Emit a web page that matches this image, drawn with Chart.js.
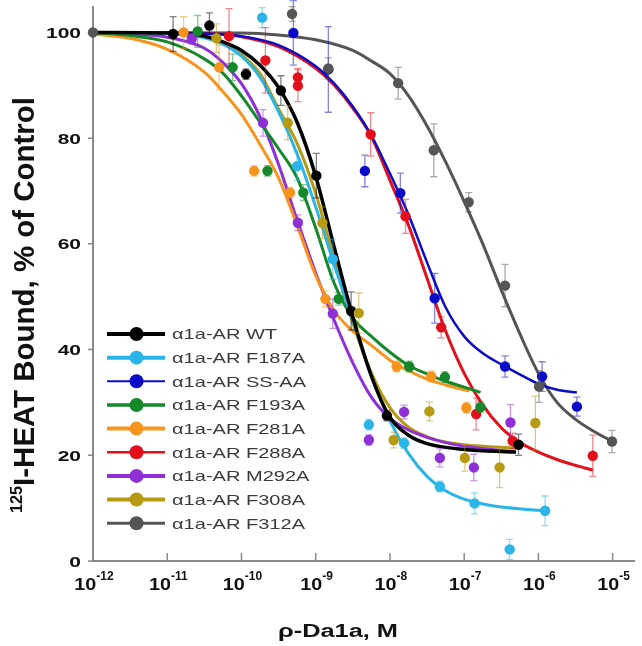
<!DOCTYPE html>
<html>
<head>
<meta charset="utf-8">
<script src="https://cdn.jsdelivr.net/npm/chart.js@4.4.1/dist/chart.umd.min.js"></script>
<style>html,body{margin:0;padding:0;background:#fff;}canvas{display:block;}</style>
</head>
<body>
<canvas id="c" width="642" height="646"></canvas>
<script>
// ---------- tick labels ----------
const xTickValues = [1e-12, 1e-11, 1e-10, 1e-9, 1e-8, 1e-7, 1e-6, 1e-5];
const xTickExponents = ['-12', '-11', '-10', '-9', '-8', '-7', '-6', '-5'];
const yTickValues = [0, 20, 40, 60, 80, 100];
const xTitle = 'ρ-Da1a, M';
const yTitleSup = '125';
const yTitleMain = 'I-HEAT Bound, % of Control';

// ---------- series ----------
const seriesLabels = ['α1a-AR WT', 'α1a-AR F187A', 'α1a-AR SS-AA', 'α1a-AR F193A', 'α1a-AR F281A',
  'α1a-AR F288A', 'α1a-AR M292A', 'α1a-AR F308A', 'α1a-AR F312A'];
const seriesColors = ['#000000', '#2ab4e8', '#0a0ac8', '#15892a', '#f7941d', '#e3101c', '#8f2fd8', '#b59a12', '#555555'];

// measured points (concentration, % bound, error)
const wtX = [1.2e-11, 3.7e-11, 1.15e-10, 3.4e-10, 1.02e-9, 3.0e-9, 9.1e-9, 5.4e-7];
const wtY = [99.7, 101.3, 92.1, 89.0, 72.9, 47.3, 27.5, 22.0];
const wtErr = [3.3, 2.4, 1.0, 2.8, 4.2, 3.6, 1.0, 2.0];

const f187X = [1.9e-10, 5.6e-10, 1.7e-9, 5.2e-9, 1.55e-8, 4.7e-8, 1.38e-7, 4.1e-7, 1.23e-6];
const f187Y = [102.8, 74.7, 57.1, 25.8, 22.3, 14.1, 10.9, 2.2, 9.5];
const f187Err = [1.9, 2.7, 3.8, 1.0, 1.0, 1.0, 2.0, 1.9, 2.8];

const ssaaX = [5.0e-10, 1.48e-9, 4.6e-9, 1.38e-8, 4.0e-8, 3.55e-7, 1.12e-6, 3.3e-6];
const ssaaY = [99.9, 93.0, 73.8, 69.6, 49.7, 36.8, 34.9, 29.2];
const ssaaErr = [6.1, 8.1, 3.0, 3.8, 4.7, 2.0, 2.8, 1.8];

const f193X = [2.57e-11, 7.6e-11, 2.24e-10, 6.8e-10, 2.04e-9, 1.82e-8, 5.5e-8, 1.66e-7];
const f193Y = [100.2, 93.4, 73.8, 69.7, 49.6, 36.8, 34.8, 29.1];
const f193Err = [3.0, 2.5, 1.0, 1.5, 1.2, 1.0, 1.0, 1.0];

const f281X = [1.66e-11, 5.0e-11, 1.48e-10, 4.5e-10, 1.35e-9, 1.23e-8, 3.6e-8, 1.07e-7];
const f281Y = [100.0, 93.4, 73.8, 69.7, 49.6, 36.8, 34.9, 29.0];
const f281Err = [3.0, 4.2, 1.0, 1.0, 1.5, 1.0, 1.0, 1.0];

const f288X = [6.8e-11, 2.1e-10, 5.75e-10, 5.75e-10, 5.5e-9, 1.62e-8, 4.9e-8, 1.45e-7, 4.5e-7, 5.4e-6];
const f288Y = [99.3, 94.7, 91.5, 89.9, 80.7, 65.2, 44.2, 27.8, 22.7, 19.9];
const f288Err = [5.2, 6.2, 1.7, 3.0, 4.1, 3.2, 2.0, 3.0, 1.5, 3.9];

const m292X = [2.14e-11, 1.95e-10, 5.75e-10, 1.7e-9, 5.2e-9, 1.55e-8, 4.7e-8, 1.35e-7, 4.2e-7];
const m292Y = [98.8, 82.9, 64.0, 46.8, 22.9, 28.2, 19.5, 17.7, 26.2];
const m292Err = [1.0, 2.5, 1.5, 2.8, 1.0, 1.3, 1.7, 2.5, 3.4];

const f308X = [4.6e-11, 4.2e-10, 1.23e-9, 3.8e-9, 1.12e-8, 3.4e-8, 1.02e-7, 3.0e-7, 9.1e-7];
const f308Y = [98.9, 82.9, 64.0, 46.9, 22.9, 28.3, 19.5, 17.7, 26.1];
const f308Err = [2.7, 3.2, 3.0, 3.8, 1.5, 1.8, 2.5, 3.8, 5.1];

const f312X = [1e-12, 4.8e-10, 1.48e-9, 1.29e-8, 3.9e-8, 1.15e-7, 3.55e-7, 1.02e-6, 9.8e-6];
const f312Y = [100, 103.5, 93.2, 90.4, 77.7, 67.9, 52.1, 33.0, 22.6];
const f312Err = [0, 1.4, 2.0, 3.0, 5.0, 1.8, 4.0, 3.0, 2.1];

// fitted curves
const wtFitX = [1e-12, 1e-11, 3.16e-11, 5.62e-11, 1e-10, 1.78e-10, 3.16e-10, 5.62e-10, 1e-9, 1.78e-9, 3.16e-9, 5.62e-9, 1e-8, 1.78e-8, 3.16e-8, 5.62e-8, 1e-7, 3.16e-7, 5.0e-7];
const wtFitY = [100, 99.9, 99.3, 98.2, 96.6, 93.8, 89.6, 83, 72.8, 59.3, 46.2, 35, 27.2, 23.8, 22.2, 21.5, 21.1, 20.7, 20.6];

const f187FitX = [1e-12, 1e-11, 3.16e-11, 5.62e-11, 1e-10, 1.78e-10, 3.16e-10, 5.62e-10, 1e-9, 1.78e-9, 3.16e-9, 5.62e-9, 1e-8, 1.78e-8, 3.16e-8, 5.62e-8, 1e-7, 1.78e-7, 3.16e-7, 1e-6, 1.23e-6];
const f187FitY = [100, 99.8, 99, 97.8, 95.5, 91.5, 85, 77, 67, 56, 45.5, 35, 26.5, 20.3, 16, 13.3, 11.7, 10.8, 10.2, 9.6, 9.5];

const ssaaFitX = [1e-12, 3.16e-11, 1e-10, 3.16e-10, 1e-9, 1.78e-9, 3.16e-9, 5.62e-9, 1e-8, 1.78e-8, 3.16e-8, 5.62e-8, 1e-7, 1.78e-7, 3.16e-7, 5.62e-7, 1e-6, 1.78e-6, 3.3e-6];
const ssaaFitY = [100, 99.8, 99.3, 97.6, 93.6, 90.3, 86, 80.5, 73.3, 65.5, 56.5, 48, 42.5, 39.3, 37.2, 35.3, 33.5, 32.4, 31.9];

const f193FitX = [1e-12, 3.16e-12, 1e-11, 3.16e-11, 5.62e-11, 1e-10, 1.78e-10, 3.16e-10, 5.62e-10, 1e-9, 1.78e-9, 3.16e-9, 5.62e-9, 1e-8, 1.78e-8, 3.16e-8, 5.62e-8, 1e-7, 1.66e-7];
const f193FitY = [100, 99.4, 98.2, 95, 92.3, 88, 83, 78, 72.5, 63, 52.5, 46, 42.5, 39.5, 37, 35.4, 34, 32.9, 31.9];

const f281FitX = [1e-12, 3.16e-12, 1e-11, 3.16e-11, 5.62e-11, 1e-10, 1.78e-10, 3.16e-10, 5.62e-10, 1e-9, 1.78e-9, 3.16e-9, 5.62e-9, 1e-8, 1.78e-8, 3.16e-8, 5.62e-8, 1e-7, 1.17e-7];
const f281FitY = [99.7, 98.9, 96.8, 92.5, 88.8, 84.5, 78.8, 72.5, 63.5, 54, 47.3, 43.5, 40.8, 38, 36, 34.4, 33.3, 32.4, 32.2];

const f288FitX = [1e-12, 3.16e-11, 1e-10, 3.16e-10, 1e-9, 1.78e-9, 3.16e-9, 5.62e-9, 1e-8, 1.78e-8, 3.16e-8, 5.62e-8, 1e-7, 1.78e-7, 3.16e-7, 5.62e-7, 1e-6, 1.78e-6, 3.16e-6, 5.4e-6];
const f288FitY = [100, 99.8, 99.2, 97.3, 93.2, 90, 85.7, 80.3, 72, 63.5, 53.5, 43.5, 35.5, 29.5, 25.2, 22.4, 20.6, 19.2, 18.1, 17.2];

const m292FitX = [1e-12, 3.16e-12, 1e-11, 3.16e-11, 5.62e-11, 1e-10, 1.78e-10, 3.16e-10, 5.62e-10, 1e-9, 1.78e-9, 3.16e-9, 5.62e-9, 1e-8, 1.78e-8, 3.16e-8, 5.62e-8, 1e-7, 3.16e-7, 4.68e-7];
const m292FitY = [100, 99.7, 99.1, 97, 94.3, 90.3, 84, 75, 64.5, 54.5, 45.5, 37.5, 31, 27, 24.8, 23.4, 22.4, 21.7, 20.9, 20.7];

const f308FitX = [1e-12, 1e-11, 3.16e-11, 5.62e-11, 1e-10, 1.78e-10, 3.16e-10, 5.62e-10, 1e-9, 1.78e-9, 3.16e-9, 5.62e-9, 1e-8, 1.78e-8, 3.16e-8, 5.62e-8, 1e-7, 3.16e-7, 5.0e-7];
const f308FitY = [100, 99.9, 99.2, 98, 95.8, 92.2, 85.5, 79, 69.5, 57, 45, 35.6, 29, 25.3, 23.5, 22.5, 22, 21.5, 21.4];

const f312FitX = [1e-12, 1e-10, 3.16e-10, 1e-9, 3.16e-9, 5.62e-9, 1e-8, 1.78e-8, 3.16e-8, 5.62e-8, 1e-7, 1.78e-7, 3.16e-7, 5.62e-7, 1e-6, 1.78e-6, 3.16e-6, 5.62e-6, 1e-5];
const f312FitY = [100, 99.9, 99.5, 98.6, 96.6, 94.6, 92.2, 88, 82.3, 75.5, 68, 60, 51.3, 43, 35.5, 30, 26.8, 24.5, 22.6];

// ---------- assembly ----------
const pointXs = [wtX, f187X, ssaaX, f193X, f281X, f288X, m292X, f308X, f312X];
const pointYs = [wtY, f187Y, ssaaY, f193Y, f281Y, f288Y, m292Y, f308Y, f312Y];
const pointErrs = [wtErr, f187Err, ssaaErr, f193Err, f281Err, f288Err, m292Err, f308Err, f312Err];
const fitXs = [wtFitX, f187FitX, ssaaFitX, f193FitX, f281FitX, f288FitX, m292FitX, f308FitX, f312FitX];
const fitYs = [wtFitY, f187FitY, ssaaFitY, f193FitY, f281FitY, f288FitY, m292FitY, f308FitY, f312FitY];
const curveWidths = [3.5, 3, 2.5, 3, 3, 3, 3, 3, 3];
const legendWidths = [4, 4, 2, 3.5, 4, 2.5, 4, 4, 3];
const pointOrder = [2, 5, 8, 4, 3, 6, 7, 1, 0];

function hexA(hex, a) {
  const n = parseInt(hex.slice(1), 16);
  return `rgba(${(n >> 16) & 255},${(n >> 8) & 255},${n & 255},${a})`;
}
const zip = (xs, ys) => xs.map((v, i) => ({ x: v, y: ys[i] }));

const datasets = [];
seriesLabels.forEach((lab, i) => {
  datasets.push({
    type: 'line', label: lab + ' fit', data: zip(fitXs[i], fitYs[i]),
    borderColor: seriesColors[i], borderWidth: curveWidths[i], pointRadius: 0,
    cubicInterpolationMode: 'monotone', fill: false, order: 20 + i, clip: false
  });
});
seriesLabels.forEach((lab, i) => {
  datasets.push({
    type: 'scatter', label: lab, data: zip(pointXs[i], pointYs[i]),
    errors: pointErrs[i], errColor: hexA(seriesColors[i], 0.5),
    backgroundColor: seriesColors[i], borderColor: seriesColors[i], borderWidth: 0,
    pointRadius: 5.2, order: pointOrder[i], clip: false
  });
});

const FONT = '"Liberation Sans", Arial, sans-serif';
function drawScaled(ctx, text, x, y, font, sx, align) {
  ctx.save();
  ctx.font = font;
  const w = ctx.measureText(text).width * sx;
  const x0 = align === 'right' ? x - w : align === 'center' ? x - w / 2 : x;
  ctx.translate(x0, y);
  ctx.scale(sx, 1);
  ctx.textAlign = 'left';
  ctx.textBaseline = 'alphabetic';
  ctx.fillText(text, 0, 0);
  ctx.restore();
  return w;
}
function textW(ctx, text, font) { ctx.save(); ctx.font = font; const w = ctx.measureText(text).width; ctx.restore(); return w; }

const errorBarPlugin = {
  id: 'errbars',
  beforeDatasetDraw(chart, args) {
    const ds = chart.data.datasets[args.index];
    if (!ds.errors) return;
    const ctx = chart.ctx, xs = chart.scales.x, ys = chart.scales.y;
    ctx.save();
    ctx.strokeStyle = ds.errColor;
    ctx.lineWidth = 1.3;
    ds.data.forEach((p, j) => {
      const e = ds.errors[j];
      if (!e) return;
      const px = xs.getPixelForValue(p.x);
      const y1 = ys.getPixelForValue(p.y + e), y2 = ys.getPixelForValue(p.y - e);
      ctx.beginPath();
      ctx.moveTo(px, y1); ctx.lineTo(px, y2);
      ctx.moveTo(px - 3.5, y1); ctx.lineTo(px + 3.5, y1);
      ctx.moveTo(px - 3.5, y2); ctx.lineTo(px + 3.5, y2);
      ctx.stroke();
    });
    ctx.restore();
  }
};

const axisPlugin = {
  id: 'axes',
  beforeDatasetsDraw(chart) {
    const { ctx, chartArea: a, scales: { x, y } } = chart;
    ctx.save();
    ctx.strokeStyle = '#8a8a8a';
    ctx.lineWidth = 2;
    ctx.beginPath();
    ctx.moveTo(a.left, a.top); ctx.lineTo(a.left, a.bottom); ctx.lineTo(a.right, a.bottom);
    ctx.stroke();
    ctx.lineWidth = 1.5;
    ctx.beginPath();
    xTickValues.forEach(v => { const px = x.getPixelForValue(v); ctx.moveTo(px, a.bottom); ctx.lineTo(px, a.bottom - 8); });
    yTickValues.forEach(v => { const py = y.getPixelForValue(v); ctx.moveTo(a.left, py); ctx.lineTo(a.left - 5, py); });
    ctx.stroke();
    ctx.restore();
  },
  afterDraw(chart) {
    const { ctx, chartArea: a, scales: { x, y } } = chart;
    ctx.save();
    ctx.fillStyle = '#111';
    // y tick labels
    const yFont = 'bold 15.5px ' + FONT;
    const ySx = 35 / textW(ctx, '100', yFont);
    yTickValues.forEach(v => {
      drawScaled(ctx, String(v), 81, y.getPixelForValue(v) + 5.6, yFont, ySx, 'right');
    });
    // x tick labels
    const baseFont = 'bold 17px ' + FONT, expFont = 'bold 12px ' + FONT;
    const bSx = 22 / textW(ctx, '10', baseFont);
    xTickValues.forEach((v, i) => {
      const px = x.getPixelForValue(v);
      const wb = textW(ctx, '10', baseFont) * bSx;
      const we = textW(ctx, xTickExponents[i], expFont);
      const left = px + 1 - (wb + we) / 2;
      drawScaled(ctx, '10', left, 590, baseFont, bSx, 'left');
      drawScaled(ctx, xTickExponents[i], left + wb, 580, expFont, 1, 'left');
    });
    // x title
    const xtFont = 'bold 18px ' + FONT;
    drawScaled(ctx, xTitle, 338, 637, xtFont, 120 / textW(ctx, xTitle, xtFont), 'center');
    // y title (rotated)
    const supFont = 'bold 16px ' + FONT, mainFont = 'bold 29px ' + FONT;
    const ws = textW(ctx, yTitleSup, supFont), wm = textW(ctx, yTitleMain, mainFont);
    const s = 416 / (ws + wm);
    ctx.save();
    ctx.translate(34, 513);
    ctx.rotate(-Math.PI / 2);
    ctx.scale(s, 1);
    ctx.textAlign = 'left'; ctx.textBaseline = 'alphabetic';
    ctx.font = supFont; ctx.fillText(yTitleSup, 0, -12);
    ctx.font = mainFont; ctx.fillText(yTitleMain, ws, 0);
    ctx.restore();
    // legend
    const lFont = '15px ' + FONT;
    const lSx = 133 / textW(ctx, seriesLabels[1], lFont);
    seriesLabels.forEach((lab, i) => {
      const cy = 334 + i * 23.65;
      ctx.strokeStyle = seriesColors[i];
      ctx.lineWidth = legendWidths[i];
      ctx.beginPath(); ctx.moveTo(107, cy); ctx.lineTo(165, cy); ctx.stroke();
      ctx.fillStyle = seriesColors[i];
      ctx.beginPath(); ctx.arc(136.5, cy, 7, 0, Math.PI * 2); ctx.fill();
      ctx.fillStyle = '#3a3a3a';
      drawScaled(ctx, lab, 172, cy + 5.4, lFont, lSx, 'left');
    });
    ctx.restore();
  }
};

new Chart(document.getElementById('c'), {
  type: 'scatter',
  data: { datasets },
  options: {
    responsive: false,
    animation: false,
    devicePixelRatio: 1,
    layout: { padding: { top: 6, right: 7, left: 0, bottom: 0 } },
    plugins: { legend: { display: false }, tooltip: { enabled: false } },
    scales: {
      x: {
        type: 'logarithmic', min: 1e-12, max: 2e-5,
        border: { display: false }, grid: { display: false }, ticks: { display: false },
        afterFit(s) { s.height = 85; }
      },
      y: {
        type: 'linear', min: 0, max: 105,
        border: { display: false }, grid: { display: false }, ticks: { display: false },
        afterFit(s) { s.width = 93; }
      }
    }
  },
  plugins: [errorBarPlugin, axisPlugin]
});
</script>
</body>
</html>
